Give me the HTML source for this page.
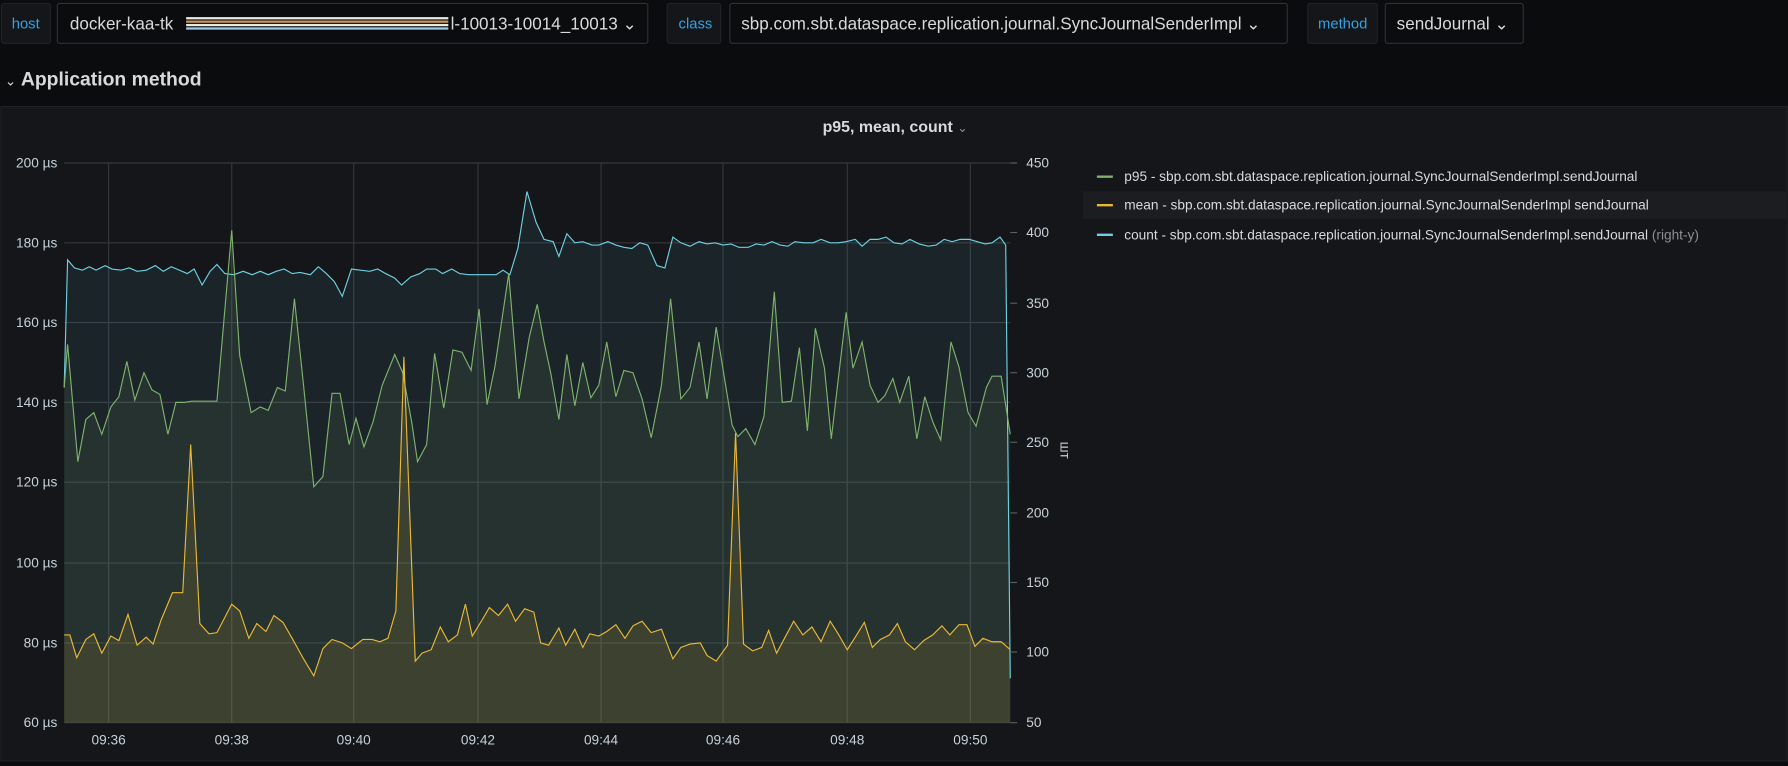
<!DOCTYPE html>
<html><head><meta charset="utf-8"><style>
html,body{margin:0;padding:0;background:#0b0c0e;width:1788px;height:766px;overflow:hidden}
svg{display:block}
text{font-family:"Liberation Sans",sans-serif}
</style></head><body>
<svg width="1788" height="766" viewBox="0 0 1568 672" xmlns="http://www.w3.org/2000/svg">
<rect width="1568" height="672" fill="#0b0c0e"/>
<g font-size="14">
<rect x="1" y="3" width="43" height="35" rx="2" fill="#141619" stroke="#202226"/>
<text x="10" y="25" fill="#33a2e5" font-size="13">host</text>
<rect x="50" y="3" width="518" height="35" rx="2" fill="#0b0c0e" stroke="#2c3235"/>
<text x="61" y="26" fill="#d8d9da" font-size="15">docker-kaa-tk</text>
<rect x="163" y="15" width="230" height="2" fill="#e8e8e8"/><rect x="163" y="18" width="230" height="2" fill="#c79650"/><rect x="163" y="21" width="230" height="2" fill="#e8e8e8"/><rect x="163" y="24" width="230" height="2" fill="#9ecbe8"/>
<text x="395" y="26" fill="#d8d9da" font-size="15">l-10013-10014_10013 ⌄</text>
<rect x="585" y="3" width="47" height="35" rx="2" fill="#141619" stroke="#202226"/>
<text x="595" y="25" fill="#33a2e5" font-size="13">class</text>
<rect x="640" y="3" width="489" height="35" rx="2" fill="#0b0c0e" stroke="#2c3235"/>
<text x="650" y="26" fill="#d8d9da" font-size="15">sbp.com.sbt.dataspace.replication.journal.SyncJournalSenderImpl ⌄</text>
<rect x="1147" y="3" width="61" height="35" rx="2" fill="#141619" stroke="#202226"/>
<text x="1156" y="25" fill="#33a2e5" font-size="13">method</text>
<rect x="1215" y="3" width="121" height="35" rx="2" fill="#0b0c0e" stroke="#2c3235"/>
<text x="1225" y="26" fill="#d8d9da" font-size="15">sendJournal ⌄</text>
</g>
<text x="4" y="75" fill="#d8d9da" font-size="12">⌄</text>
<text x="18" y="75" fill="#d8d9da" font-size="17" font-weight="bold">Application method</text>
<rect x="0.5" y="93.5" width="1567" height="574" fill="#141619" stroke="#202226"/>
<text x="785" y="116" fill="#d8d9da" font-size="14" font-weight="bold" text-anchor="middle">p95, mean, count <tspan font-weight="normal" font-size="11" fill="#8e8e8e">⌄</tspan></text>
<rect x="950" y="168" width="618" height="24" fill="#1b1d21"/>
<g font-size="12" fill="#d8d9da">
<line x1="962" y1="155" x2="976" y2="155" stroke="#7eb26d" stroke-width="2"/><text x="986" y="159">p95 - sbp.com.sbt.dataspace.replication.journal.SyncJournalSenderImpl.sendJournal</text>
<line x1="962" y1="180" x2="976" y2="180" stroke="#eab839" stroke-width="2"/><text x="986" y="184">mean - sbp.com.sbt.dataspace.replication.journal.SyncJournalSenderImpl sendJournal</text>
<line x1="962" y1="206" x2="976" y2="206" stroke="#6ed0e0" stroke-width="2"/><text x="986" y="210">count - sbp.com.sbt.dataspace.replication.journal.SyncJournalSenderImpl.sendJournal <tspan fill="#8e8e8e">(right-y)</tspan></text>
</g>
<g stroke="#34373b" stroke-width="1">
<line x1="56" y1="143" x2="886" y2="143"/><line x1="56" y1="213" x2="886" y2="213"/><line x1="56" y1="283" x2="886" y2="283"/><line x1="56" y1="353" x2="886" y2="353"/><line x1="56" y1="423" x2="886" y2="423"/><line x1="56" y1="494" x2="886" y2="494"/><line x1="56" y1="564" x2="886" y2="564"/><line x1="56" y1="634" x2="886" y2="634"/>
<line x1="95" y1="143" x2="95" y2="634"/><line x1="203" y1="143" x2="203" y2="634"/><line x1="310" y1="143" x2="310" y2="634"/><line x1="419" y1="143" x2="419" y2="634"/><line x1="527" y1="143" x2="527" y2="634"/><line x1="634" y1="143" x2="634" y2="634"/><line x1="743" y1="143" x2="743" y2="634"/><line x1="851" y1="143" x2="851" y2="634"/>
</g>
<g id="series"></g>
<g font-size="12" fill="#c7d0d9" text-anchor="end">
<text x="50" y="147">200 µs</text><text x="50" y="217">180 µs</text><text x="50" y="287">160 µs</text><text x="50" y="357">140 µs</text><text x="50" y="427">120 µs</text><text x="50" y="498">100 µs</text><text x="50" y="568">80 µs</text><text x="50" y="638">60 µs</text>
</g>
<g font-size="12" fill="#c7d0d9">
<text x="900" y="147">450</text><text x="900" y="208">400</text><text x="900" y="270">350</text><text x="900" y="331">300</text><text x="900" y="392">250</text><text x="900" y="454">200</text><text x="900" y="515">150</text><text x="900" y="576">100</text><text x="900" y="638">50</text>
</g>
<g stroke="#5a5e63"><line x1="886" y1="143" x2="892" y2="143"/><line x1="886" y1="204" x2="892" y2="204"/><line x1="886" y1="266" x2="892" y2="266"/><line x1="886" y1="327" x2="892" y2="327"/><line x1="886" y1="388" x2="892" y2="388"/><line x1="886" y1="450" x2="892" y2="450"/><line x1="886" y1="511" x2="892" y2="511"/><line x1="886" y1="572" x2="892" y2="572"/><line x1="886" y1="634" x2="892" y2="634"/></g>
<text x="930" y="395" fill="#c7d0d9" font-size="12" transform="rotate(90 930 395)" text-anchor="middle">шт</text>
<g font-size="12" fill="#c7d0d9" text-anchor="middle">
<text x="95" y="653">09:36</text><text x="203" y="653">09:38</text><text x="310" y="653">09:40</text><text x="419" y="653">09:42</text><text x="527" y="653">09:44</text><text x="634" y="653">09:46</text><text x="743" y="653">09:48</text><text x="851" y="653">09:50</text>
</g>
</svg>
<script>
const cnt=[56,340,59,228,65,235,72,237,78,234,84,237,92,233,98,236,106,237,113,235,120,238,128,237,136,233,143,238,150,234,157,237,164,240,170,236,177,250,184,238,190,232,197,240,205,241,213,238,221,241,228,238,235,241,242,238,249,236,256,240,263,239,272,241,279,234,286,240,293,247,300,260,308,236,316,237,324,238,331,236,338,240,346,244,352,250,360,243,368,240,374,236,382,236,388,240,396,236,403,240,411,241,420,241,427,241,435,241,441,237,447,241,454,218,462,168,470,195,477,210,485,212,490,225,497,205,504,213,511,212,519,215,525,215,533,212,540,215,547,217,554,218,561,213,568,215,576,233,583,235,590,208,597,213,605,216,613,212,620,214,627,213,634,215,641,214,648,217,656,217,663,214,670,215,677,212,684,215,691,216,697,212,705,213,713,213,720,210,728,213,735,213,742,212,750,210,756,216,763,210,770,210,777,208,784,213,791,214,798,210,806,214,814,216,821,215,828,210,835,212,842,210,850,210,857,212,864,214,870,213,877,208,882,215,886,595];
const p95=[56,340,59,302,68,405,75,368,82,362,89,381,97,357,104,348,111,317,118,351,126,327,133,342,140,346,147,381,154,353,161,353,168,352,178,352,190,352,203,202,210,312,220,362,228,357,235,360,243,340,250,343,258,262,266,338,275,427,283,418,291,345,298,345,306,390,312,367,319,392,327,370,335,338,346,311,353,327,361,371,366,405,374,390,381,310,389,358,397,307,405,309,413,325,420,271,427,355,434,321,446,240,455,350,464,296,471,267,477,300,483,328,490,368,497,311,504,356,511,318,518,349,525,338,532,300,540,348,547,325,555,327,563,350,571,384,580,338,588,262,597,350,605,340,613,300,620,350,628,287,635,330,642,373,647,383,654,376,662,390,670,365,679,256,686,353,694,352,701,305,708,378,715,288,723,323,729,385,736,325,742,274,748,323,756,300,763,338,770,353,776,347,783,332,789,353,797,330,804,385,811,348,818,370,825,386,834,300,841,322,849,362,856,374,865,340,870,330,878,330,886,381];
const mean=[56,557,61,557,67,577,75,561,82,556,89,573,97,558,104,562,112,539,120,566,128,559,134,565,141,544,151,520,160,520,167,390,175,547,183,556,190,555,203,530,210,536,218,560,225,547,233,554,240,540,248,546,256,560,266,578,275,593,283,569,291,561,300,564,308,569,318,561,326,561,333,563,340,560,347,536,354,313,364,580,370,573,378,570,386,550,393,563,401,557,408,530,414,558,422,545,429,533,437,540,445,530,452,545,460,534,468,537,474,564,481,566,490,551,496,566,504,552,511,568,517,556,525,558,532,554,540,548,548,560,555,549,563,545,571,555,580,552,590,578,597,568,605,565,614,564,620,575,628,580,638,566,645,380,652,565,660,571,668,568,674,553,681,573,689,558,696,545,704,557,712,550,720,563,728,545,735,556,743,570,750,559,758,546,765,568,772,561,780,557,787,547,794,563,802,570,810,562,818,557,826,549,833,557,841,548,848,548,855,567,862,560,870,563,878,563,886,570];
function pts(a){let s=[];for(let i=0;i<a.length;i+=2)s.push(a[i]+','+a[i+1]);return s.join(' ');}
const g=document.getElementById('series');let h='';
[[cnt,'rgba(110,208,224,0.08)'],[p95,'rgba(126,178,109,0.10)'],[mean,'rgba(234,184,57,0.12)']].forEach(([a,f])=>{
h+=`<polygon points="56,634 ${pts(a)} 886,634" fill="${f}"/>`;});
[[cnt,'#6ed0e0'],[p95,'#7eb26d'],[mean,'#eab839']].forEach(([a,c])=>{
h+=`<polyline points="${pts(a)}" fill="none" stroke="${c}" stroke-width="1"/>`;});
g.innerHTML=h;
</script>
</body></html>
